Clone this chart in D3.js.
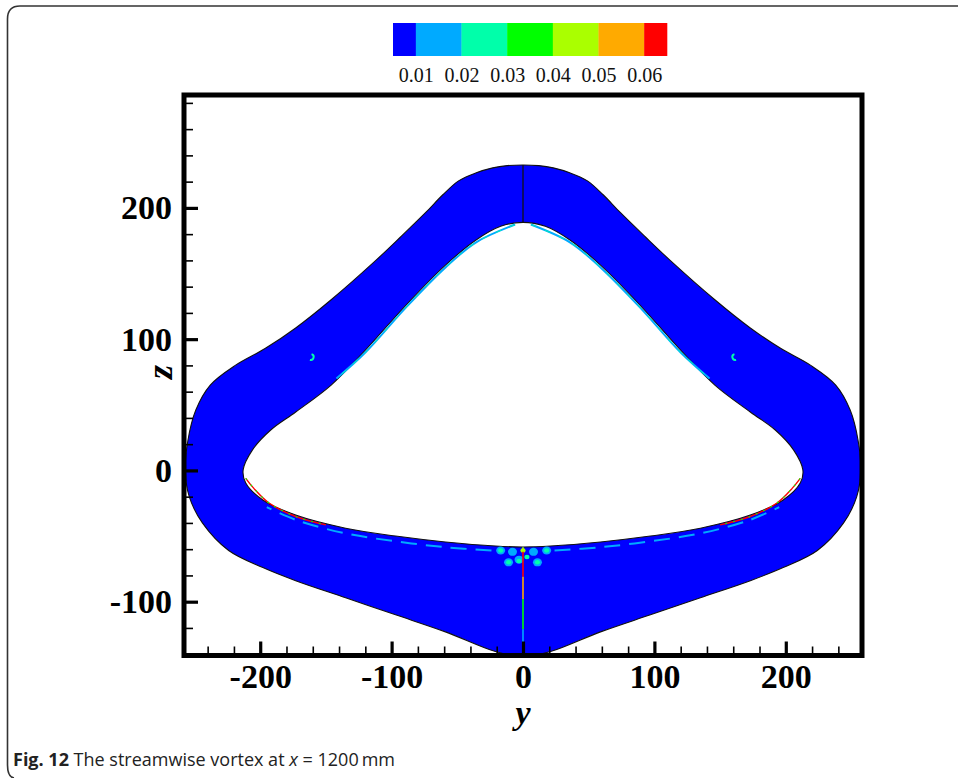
<!DOCTYPE html>
<html><head><meta charset="utf-8">
<script src="https://cdn.jsdelivr.net/npm/d3@7"></script>
<style>body{margin:0;background:#fff} svg{display:block}</style>
</head><body><svg id="c" width="958" height="778"></svg>
<script>
// ---------- data ----------
const colorBreaks = [0.01, 0.02, 0.03, 0.04, 0.05, 0.06];
const colorBands = ['#0000ff', '#00aaff', '#00ffaa', '#00ff00', '#aaff00', '#ffaa00', '#ff0000'];
const legendLevels = [0.005, 0.01, 0.02, 0.03, 0.04, 0.05, 0.06, 0.065];
const legendTicks = [0.01, 0.02, 0.03, 0.04, 0.05, 0.06];
const xMajorTicks = [-200, -100, 0, 100, 200];
const yMajorTicks = [-100, 0, 100, 200];
const xDomain = [-258, 258];
const yDomain = [-141, 286];

// outer wall of the section, [y, z] in mm
const outerBoundary = [
  [0,232.7],[12,232.2],[23,230.5],[36,226.6],[49,220.6],[61,210],[74,196.5],[93,178],[112,160],[146,130],[173,108.5],[196,93],[219,80],
  [238,65],[249,46],[255,23],[257,0],[254,-20],[244,-40],[224,-61],[198,-74],[173,-84],
  [135,-97],[97,-110],[59,-123],[21,-138],[0,-142],
  [-21,-138],[-59,-123],[-97,-110],[-135,-97],[-173,-84],[-198,-74],[-224,-61],[-244,-40],
  [-254,-20],[-257,0],[-255,23],[-249,46],[-238,65],[-219,80],[-196,93],[-173,108.5],
  [-146,130],[-112,160],[-93,178],[-74,196.5],[-61,210],[-49,220.6],[-36,226.6],[-23,230.5],[-12,232.2]
];
// inner wall
const innerBoundary = [
  [0,189],[17,186],[36,175.4],[59,156.4],[89,126],[120,91.6],[146,65],[173,44.5],[192,30.8],
  [206,15.5],[213,0.3],[211,-9.6],[198,-22.5],[173,-34],[135,-44],[97,-50],[59,-54.5],[21,-57.6],[0,-58.3],
  [-21,-57.6],[-59,-54.5],[-97,-50],[-135,-44],[-173,-34],[-198,-22.5],[-211,-9.6],[-213,0.3],
  [-206,15.5],[-192,30.8],[-173,44.5],[-146,65],[-120,91.6],[-89,126],[-59,156.4],[-36,175.4],[-17,186]
];
// thin vortex streaks along the upper inner wall
const upperStreakRight = [[6,187.3],[36,173.6],[59,154.6],[89,124.2],[120,89.8],[142,70]];
const upperStreakLeft  = [[-6,187.3],[-36,173.6],[-59,154.6],[-89,124.2],[-120,89.8],[-142,70]];
// high-level streaks along the lower inner wall
const lowerRedRight = [[211,-6],[205,-13.5],[193,-25],[172,-35.5],[150,-41.5]];
const lowerRedLeft  = [[-211,-6],[-205,-13.5],[-193,-25],[-172,-35.5],[-150,-41.5]];
// dashed streaks below the inner bottom
const bottomStreakRight = [[24,-61],[59,-58.5],[97,-54],[135,-48],[172,-38],[195,-28]];
const bottomStreakLeft  = [[-24,-61],[-59,-58.5],[-97,-54],[-135,-48],[-172,-38],[-195,-28]];
// centre-plane line below the inner wall: [zTop, zBottom, value]
const centerSegments = [[-58.5,-62,0.045],[-62,-81,0.062],[-81,-98,0.055],[-98,-121,0.035],[-121,-133,0.015]];
// small vortex spots: [y, z, value]
const spotHalos = [[-11,-70,0.015],[11,-70,0.015],[-3,-68,0.015],[-17,-61,0.015],[18,-61,0.015],[-8,-62,0.015],[8,-62,0.015]];
const spots = [[0,-61,0.045],[-11,-70,0.025],[11,-70,0.025],[-3,-69,0.025],[3,-66,0.025],[-17,-61,0.025],[18,-61,0.025]];
const hooks = [[-161.6,86.4,0.02],[161.6,86.4,0.02]];

// ---------- layout ----------
const svg = d3.select('#c');
const x = d3.scaleLinear().domain(xDomain).range([184, 862]);
const y = d3.scaleLinear().domain(yDomain).range([655.5, 95]);
const color = d3.scaleThreshold().domain(colorBreaks).range(colorBands);
const serif = "'Liberation Serif','Times New Roman',serif";
const plain = d => String(d); // hyphen-minus like the original

// figure border (left/top with rounded corners)
svg.append('path')
  .attr('d', 'M958,6 L20,6 Q7.5,6 7.5,19 L7.5,765 Q7.5,777 14,778')
  .attr('fill', 'none').attr('stroke', '#333').attr('stroke-width', 1.6);

// legend
const lx = d3.scaleLinear().domain([legendLevels[0], legendLevels[legendLevels.length - 1]]).range([393, 667]);
const lg = svg.append('g');
lg.selectAll('rect').data(d3.range(colorBands.length)).join('rect')
  .attr('x', i => lx(legendLevels[i]))
  .attr('width', i => lx(legendLevels[i + 1]) - lx(legendLevels[i]) + 0.3)
  .attr('y', 23).attr('height', 33)
  .attr('fill', i => colorBands[i]);
const lAxis = lg.append('g').attr('transform', 'translate(0,56)')
  .call(d3.axisBottom(lx).tickValues(legendTicks).tickSize(0).tickPadding(12).tickFormat(d3.format('.2f')));
lAxis.select('.domain').remove();
lAxis.selectAll('text').attr('font-family', serif).attr('font-size', 20).attr('fill', '#111');

// clip for plot area
svg.append('clipPath').attr('id', 'clip').append('rect')
  .attr('x', 184).attr('y', 95).attr('width', 678).attr('height', 560.5);
const plot = svg.append('g').attr('clip-path', 'url(#clip)');

const closed = d3.line().x(d => x(d[0])).y(d => y(d[1])).curve(d3.curveCatmullRomClosed.alpha(0.5));
const open = d3.line().x(d => x(d[0])).y(d => y(d[1])).curve(d3.curveCatmullRom.alpha(0.5));

plot.append('path')
  .attr('d', closed(outerBoundary) + ' ' + closed(innerBoundary))
  .attr('fill', color(0.005)).attr('fill-rule', 'evenodd')
  .attr('stroke', '#111').attr('stroke-width', 1.1);

// streaks
[upperStreakRight, upperStreakLeft].forEach(s => plot.append('path').attr('d', open(s))
  .attr('fill', 'none').attr('stroke', color(0.015)).attr('stroke-width', 2));
[upperStreakRight, upperStreakLeft].forEach(s => plot.append('path').attr('d', open(s))
  .attr('fill', 'none').attr('stroke', color(0.025)).attr('stroke-width', 0.8).attr('stroke-dasharray', '6,9'));
[lowerRedRight, lowerRedLeft].forEach(s => plot.append('path').attr('d', open(s))
  .attr('fill', 'none').attr('stroke', color(0.065)).attr('stroke-width', 1.4));
[lowerRedRight, lowerRedLeft].forEach(s => plot.append('path').attr('d', open(s))
  .attr('fill', 'none').attr('stroke', color(0.035)).attr('stroke-width', 1.1).attr('stroke-dasharray', '2,6'));
[bottomStreakRight, bottomStreakLeft].forEach(s => plot.append('path').attr('d', open(s))
  .attr('fill', 'none').attr('stroke', color(0.015)).attr('stroke-width', 2).attr('stroke-dasharray', '16,9'));

// spots
plot.selectAll('ellipse.halo').data(spotHalos).join('ellipse').attr('class', 'halo')
  .attr('cx', d => x(d[0])).attr('cy', d => y(d[1]))
  .attr('rx', 4.5).attr('ry', 4).attr('fill', d => color(d[2]));
plot.selectAll('ellipse.spot').data(spots).join('ellipse').attr('class', 'spot')
  .attr('cx', d => x(d[0])).attr('cy', d => y(d[1]))
  .attr('rx', 2.6).attr('ry', 2.2).attr('fill', d => color(d[2]));
plot.selectAll('path.hook').data(hooks).join('path').attr('class', 'hook')
  .attr('d', d => d3.arc()({innerRadius: 2, outerRadius: 4, startAngle: d[0] < 0 ? 0.3 : -3.4, endAngle: d[0] < 0 ? 3.4 : -0.3}))
  .attr('transform', d => `translate(${x(d[0])},${y(d[1])})`)
  .attr('fill', d => color(d[2]));

// centre plane lines
plot.append('line')
  .attr('x1', x(0)).attr('x2', x(0))
  .attr('y1', y(outerBoundary[0][1])).attr('y2', y(innerBoundary[0][1]))
  .attr('stroke', '#111').attr('stroke-width', 1.3);
plot.selectAll('line.cseg').data(centerSegments).join('line').attr('class', 'cseg')
  .attr('x1', x(0)).attr('x2', x(0))
  .attr('y1', d => y(d[0])).attr('y2', d => y(d[1]))
  .attr('stroke', d => color(d[2])).attr('stroke-width', 1.6);

// axes (ticks point inward)
function styleAxis(g, major) {
  g.select('.domain').remove();
  g.selectAll('line').attr('stroke', '#000').attr('stroke-width', major ? 3.2 : 1.6);
  g.selectAll('text').attr('font-family', serif).attr('font-weight', 'bold')
    .attr('font-size', 34).attr('fill', '#000');
}
const xMinor = d3.range(-240, 241, 20).filter(v => !xMajorTicks.includes(v));
const yMinor = d3.range(-140, 281, 20).filter(v => !yMajorTicks.includes(v));

svg.append('g').attr('transform', 'translate(0,655.5)')
  .call(d3.axisBottom(x).tickValues(xMinor).tickSize(-9).tickFormat(''))
  .call(g => styleAxis(g, false));
svg.append('g').attr('transform', 'translate(0,655.5)')
  .call(d3.axisBottom(x).tickValues(xMajorTicks).tickSize(-14).tickPadding(8).tickFormat(plain))
  .call(g => styleAxis(g, true));
svg.append('g').attr('transform', 'translate(184,0)')
  .call(d3.axisLeft(y).tickValues(yMinor).tickSize(-9).tickFormat(''))
  .call(g => styleAxis(g, false));
svg.append('g').attr('transform', 'translate(184,0)')
  .call(d3.axisLeft(y).tickValues(yMajorTicks).tickSize(-14).tickPadding(12).tickFormat(plain))
  .call(g => styleAxis(g, true));

// frame
svg.append('rect').attr('x', 184).attr('y', 95).attr('width', 678).attr('height', 560.5)
  .attr('fill', 'none').attr('stroke', '#000').attr('stroke-width', 5);

// axis titles
svg.append('text').attr('x', x(0)).attr('y', 724).attr('text-anchor', 'middle')
  .attr('font-family', serif).attr('font-style', 'italic').attr('font-weight', 'bold')
  .attr('font-size', 34).text('y');
svg.append('text').attr('transform', 'translate(172,' + y(75) + ') rotate(-90)').attr('text-anchor', 'middle')
  .attr('font-family', serif).attr('font-style', 'italic').attr('font-weight', 'bold')
  .attr('font-size', 36).text('z');

// caption
const cap = svg.append('text').attr('x', 13).attr('y', 766)
  .attr('font-family', "'Open Sans','Noto Sans',sans-serif").attr('font-size', 18).attr('fill', '#222');
cap.append('tspan').attr('font-weight', 'bold').text('Fig. 12');
cap.append('tspan').text(' The streamwise vortex at ');
cap.append('tspan').attr('font-style', 'italic').text('x');
cap.append('tspan').text(' = 1200\u2009mm');
</script></body></html>
